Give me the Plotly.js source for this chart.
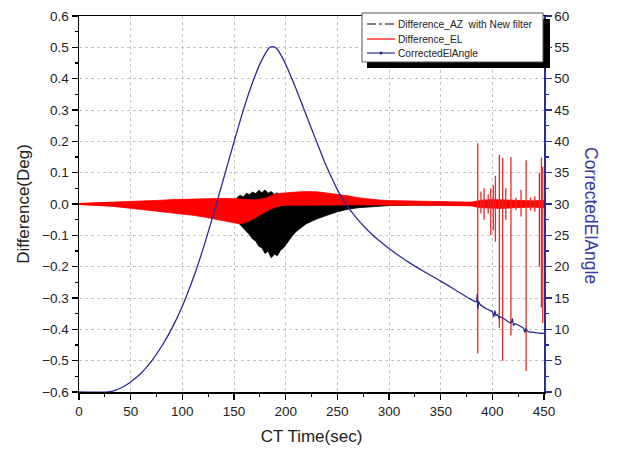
<!DOCTYPE html>
<html>
<head>
<meta charset="utf-8">
<script src="https://cdn.plot.ly/plotly-3.0.1.min.js"></script>
<style>html,body{margin:0;padding:0;background:#fff}#chart{width:624px;height:454px}</style>
</head>
<body>
<div id="chart"></div>
<script>
// ---- Data ----
// Difference_EL (red): envelope of the dense oscillation (deg)
const elTime = [0,10,20,30,40,50,60,70,80,90,100,110,120,130,140,150,155,160,165,170,175,180,185,190,195,200,210,220,230,240,250,260,270,280,290,300,320,340,360,380,385,390,400,410,420,430,440,450];
const elUpper = [0.002,0.003,0.004,0.005,0.006,0.008,0.009,0.011,0.012,0.014,0.015,0.016,0.017,0.018,0.018,0.017,0.016,0.014,0.013,0.013,0.015,0.018,0.025,0.031,0.034,0.036,0.038,0.040,0.039,0.035,0.031,0.026,0.020,0.016,0.013,0.011,0.009,0.008,0.007,0.006,0.010,0.012,0.014,0.013,0.012,0.010,0.010,0.012];
const elLower = [-0.002,-0.003,-0.005,-0.007,-0.010,-0.013,-0.016,-0.020,-0.024,-0.028,-0.032,-0.036,-0.041,-0.047,-0.053,-0.060,-0.063,-0.060,-0.054,-0.046,-0.036,-0.026,-0.017,-0.010,-0.006,-0.004,-0.003,-0.003,-0.002,-0.002,-0.003,-0.003,-0.003,-0.003,-0.003,-0.003,-0.004,-0.004,-0.005,-0.006,-0.010,-0.012,-0.014,-0.014,-0.012,-0.010,-0.010,-0.012];

// Difference_EL large spikes near the end (deg)
const spikeTime = [385.9,389,392,396,398.5,401,403,406.8,410,413,418,423,427.8,432.7,437,441,445.5,447.5,448.8];
const spikeHigh = [0.194,0.04,0.05,0.03,0.05,0.06,0.09,0.157,0.147,0.05,0.15,0.02,0.045,0.14,0.02,0.025,0.10,0.148,0.12];
const spikeLow  = [-0.477,-0.03,-0.05,-0.03,-0.10,-0.085,-0.12,-0.395,-0.50,-0.05,-0.42,-0.02,-0.04,-0.533,-0.02,-0.025,-0.20,-0.33,-0.38];

// Difference_AZ with New filter (black): envelope (deg)
const azTime = [0,50,100,140,145,150,153,156,159,162,165,168,171,174,177,180,183,186,189,192,195,198,201,205,210,215,220,230,240,250,260,270,280,290,300,320,350,400,450];
const azUpper = [0.001,0.004,0.008,0.010,0.005,0.012,0.020,0.028,0.022,0.034,0.030,0.038,0.033,0.044,0.036,0.045,0.034,0.040,0.030,0.036,0.018,0.012,0.008,0.006,0.005,0.005,0.004,0.004,0.004,0.003,0.003,0.003,0.003,0.002,0.002,0.002,0.002,0.002,0.002];
const azLower = [-0.001,-0.006,-0.015,-0.030,-0.035,-0.045,-0.055,-0.068,-0.075,-0.088,-0.098,-0.112,-0.118,-0.135,-0.140,-0.158,-0.150,-0.172,-0.160,-0.165,-0.148,-0.140,-0.125,-0.108,-0.088,-0.075,-0.063,-0.048,-0.036,-0.025,-0.017,-0.012,-0.009,-0.007,-0.005,-0.004,-0.003,-0.002,-0.002];

// CorrectedElAngle (blue, right axis, deg)
const angTime = [0,28,35,42,50,60,70,80,90,100,110,120,130,140,150,160,170,177,184,188,192,196,200,205,210,218,225,231,238,244,250,257,265,272,280,290,300,310,320,335,350,365,378,384.5,385.3,386,386.8,388,395,400,401.5,402.5,403.5,405,406.5,408,412,418,419.5,420.5,422,426,430,431.5,432.5,434,436,440,445,450];
const angValue = [0,0,0.25,0.75,1.6,3.0,4.9,7.3,10.2,13.7,17.9,22.8,28.3,34.1,39.9,45.5,50.3,53.0,54.9,55.1,54.7,53.6,52.3,50.4,48.4,45.0,42.0,39.5,36.6,34.4,32.3,30.3,28.5,27.1,25.7,24.2,22.9,21.7,20.6,19.1,17.7,16.2,14.9,14.4,15.6,13.2,14.4,14.0,13.2,12.8,12.0,13.0,12.2,12.4,11.8,12.0,11.6,11.0,11.7,10.6,10.9,10.6,10.2,9.5,10.2,9.7,9.6,9.5,9.4,9.35];

const legendNames = ['Difference_AZ  with New filter','Difference_EL','CorrectedElAngle'];

// ---- Build traces ----
function band(t, up, lo) {
  return {x: t.concat(t.slice().reverse()), y: up.concat(lo.slice().reverse())};
}
const azBand = band(azTime, azUpper, azLower);
const elBand = band(elTime, elUpper, elLower);
const spX = [], spY = [];
spikeTime.forEach((t, i) => { spX.push(t, t, null); spY.push(spikeHigh[i], spikeLow[i], null); });

const NAVY = '#2b2b96';
const traces = [
  {x: azBand.x, y: azBand.y, type: 'scatter', mode: 'lines', fill: 'toself', fillcolor: '#000000',
   line: {color: '#000000', width: 0.8}, showlegend: false, hoverinfo: 'skip'},
  {x: elBand.x, y: elBand.y, type: 'scatter', mode: 'lines', fill: 'toself', fillcolor: '#ff0000',
   line: {color: '#ff0000', width: 0.8}, showlegend: false, hoverinfo: 'skip'},
  {x: spX, y: spY, type: 'scatter', mode: 'lines', line: {color: 'rgb(232,40,40)', width: 1.3},
   showlegend: false, connectgaps: false, hoverinfo: 'skip'},
  {x: angTime, y: angValue, type: 'scatter', mode: 'lines', yaxis: 'y2',
   line: {color: NAVY, width: 1.3, shape: 'spline', smoothing: 0.6}, showlegend: false}
];

// ---- Manual legend (with the drop shadow of the original) ----
const X = px => (px - 79) / 465;
const Y = py => (392 - py) / 376;
const rowY = [24, 39, 53];
const shapes = [
  {type: 'rect', xref: 'paper', yref: 'paper', x0: X(367), x1: X(550), y0: Y(68), y1: Y(19), fillcolor: '#000', line: {width: 0}, layer: 'above'},
  {type: 'rect', xref: 'paper', yref: 'paper', x0: X(362), x1: X(543), y0: Y(62), y1: Y(13), fillcolor: '#fff', line: {color: '#555', width: 1}, layer: 'above'},
  {type: 'line', xref: 'paper', yref: 'paper', x0: X(367), x1: X(395), y0: Y(rowY[0]), y1: Y(rowY[0]), line: {color: '#000', width: 1.2, dash: 'dashdot'}, layer: 'above'},
  {type: 'line', xref: 'paper', yref: 'paper', x0: X(367), x1: X(395), y0: Y(rowY[1]), y1: Y(rowY[1]), line: {color: '#ff0000', width: 1.2}, layer: 'above'},
  {type: 'line', xref: 'paper', yref: 'paper', x0: X(367), x1: X(395), y0: Y(rowY[2]), y1: Y(rowY[2]), line: {color: NAVY, width: 1.2}, layer: 'above'},
  {type: 'circle', xref: 'paper', yref: 'paper', x0: X(379.5), x1: X(382.5), y0: Y(rowY[2] + 1.5), y1: Y(rowY[2] - 1.5), fillcolor: NAVY, line: {width: 0}, layer: 'above'}
];
const annotations = legendNames.map((n, i) => ({
  text: n, xref: 'paper', yref: 'paper', x: X(396), y: Y(rowY[i]), xanchor: 'left', yanchor: 'middle',
  showarrow: false, font: {family: 'Liberation Sans, Arial, sans-serif', size: 10.2, color: '#222'}
}));
annotations.push({
  text: 'CorrectedElAngle', xref: 'paper', yref: 'paper', x: X(591), y: Y(215), textangle: 90,
  xanchor: 'center', yanchor: 'middle', showarrow: false,
  font: {family: 'Liberation Sans, Arial, sans-serif', size: 17.5, color: '#3838a8'}
});

const FONT = 'Liberation Sans, Arial, sans-serif';
const layout = {
  width: 624, height: 454,
  margin: {l: 79, r: 80, t: 16, b: 62},
  paper_bgcolor: '#fff', plot_bgcolor: '#fff',
  font: {family: FONT, color: '#222'},
  showlegend: false,
  xaxis: {
    range: [0, 450], dtick: 50, tick0: 0, ticks: 'outside', ticklen: 6, tickwidth: 1.2, tickcolor: '#000',
    showline: true, linecolor: '#000', linewidth: 1.5, mirror: true,
    showgrid: true, gridcolor: '#c4c4c4', griddash: 'dot', gridwidth: 1, zeroline: false,
    minor: {dtick: 25, ticks: 'outside', ticklen: 3, tickcolor: '#000', showgrid: false},
    tickfont: {size: 13.5, color: '#222'},
    title: {text: 'CT Time(sec)', font: {size: 17, color: '#222'}, standoff: 12}
  },
  yaxis: {
    range: [-0.6, 0.6], dtick: 0.1, tick0: 0, tickformat: '.1f', ticks: 'outside', ticklen: 6, tickwidth: 1.2, tickcolor: '#000',
    showline: true, linecolor: '#000', linewidth: 1.5,
    showgrid: true, gridcolor: '#c4c4c4', griddash: 'dot', gridwidth: 1, zeroline: false,
    minor: {dtick: 0.05, ticks: 'outside', ticklen: 3, tickcolor: '#000', showgrid: false},
    tickfont: {size: 13.5, color: '#222'},
    title: {text: 'Difference(Deg)', font: {size: 17, color: '#222'}, standoff: 8}
  },
  yaxis2: {
    overlaying: 'y', side: 'right', range: [0, 60], dtick: 5, tick0: 0,
    ticks: 'outside', ticklen: 6, tickwidth: 1.2, tickcolor: NAVY,
    showline: true, linecolor: NAVY, linewidth: 1.5,
    showgrid: false, zeroline: false,
    minor: {dtick: 2.5, ticks: 'outside', ticklen: 3, tickcolor: NAVY, showgrid: false},
    tickfont: {size: 13.5, color: '#222'}
  },
  shapes: shapes,
  annotations: annotations
};
Plotly.newPlot('chart', traces, layout, {staticPlot: true, displayModeBar: false});
</script>
</body>
</html>
